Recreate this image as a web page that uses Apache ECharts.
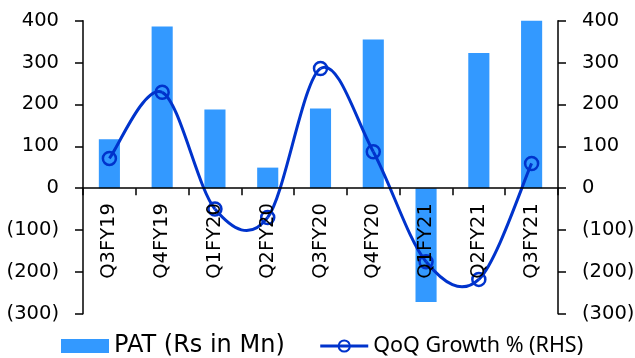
<!DOCTYPE html>
<html>
<head>
<meta charset="utf-8">
<script src="https://cdn.jsdelivr.net/npm/echarts@6/dist/echarts.min.js"></script>
<style>
  html, body { margin: 0; padding: 0; background: #fff; }
  #chart { width: 635px; height: 358px; }
</style>
</head>
<body>
<div id="chart"></div>
<script>
// Quarterly profit and quarter-on-quarter growth
const quarters = ['Q3FY19', 'Q4FY19', 'Q1FY20', 'Q2FY20', 'Q3FY20', 'Q4FY20', 'Q1FY21', 'Q2FY21', 'Q3FY21'];
const pat = [117, 386, 188, 49, 190, 355, -272, 323, 400];
const growth = [71, 229, -50, -70, 286, 87, -176, -218, 59];
const axisTicks = [-300, -200, -100, 0, 100, 200, 300, 400];

const BAR = '#3399FF';
const LINE = '#0033CC';
const AXIS = '#000000';

const W = 635, H = 358;
const GRID = { left: 83, right: 77, top: 20.7, bottom: 44.3 };
const yMin = axisTicks[0], yMax = axisTicks[axisTicks.length - 1];
// lift the category axis from the grid bottom up to the zero line
const plotH = H - GRID.top - GRID.bottom;
const zeroLift = plotH * (0 - yMin) / (yMax - yMin);

const fmt = v => (v < 0 ? '(' + (-v) + ')' : String(v));

function valueAxis(position) {
  return {
    type: 'value',
    position: position,
    min: yMin,
    max: yMax,
    interval: 100,
    splitLine: { show: false },
    axisLine: { show: true, onZero: false, lineStyle: { color: AXIS, width: 1.5 } },
    axisTick: { show: true, length: 8, lineStyle: { color: AXIS, width: 1.5 } },
    axisLabel: {
      margin: 24,
      color: '#000',
      fontFamily: 'DejaVu Sans',
      fontSize: 19.5,
      formatter: fmt
    }
  };
}

// Catmull-Rom style smoothing between consecutive growth points
function renderCurve(params, api) {
  const i = params.dataIndex;
  const n = growth.length;
  if (i >= n - 1) return null;
  const pt = k => {
    k = Math.max(0, Math.min(n - 1, k));
    return api.coord([k, growth[k]]);
  };
  const p0 = pt(i - 1), p1 = pt(i), p2 = pt(i + 1), p3 = pt(i + 2);
  return {
    type: 'bezierCurve',
    shape: {
      x1: p1[0], y1: p1[1],
      x2: p2[0], y2: p2[1],
      cpx1: p1[0] + (p2[0] - p0[0]) / 6,
      cpy1: p1[1] + (p2[1] - p0[1]) / 6,
      cpx2: p2[0] - (p3[0] - p1[0]) / 6,
      cpy2: p2[1] - (p3[1] - p1[1]) / 6
    },
    style: { stroke: LINE, lineWidth: 3, fill: null }
  };
}

const chart = echarts.init(document.getElementById('chart'), null, { renderer: 'canvas' });
chart.setOption({
  animation: false,
  backgroundColor: '#fff',
  grid: Object.assign({ outerBoundsMode: 'none' }, GRID),
  legend: {
    left: 61,
    top: 334,
    padding: 0,
    itemGap: 34,
    itemWidth: 48,
    itemHeight: 14,
    lineStyle: { opacity: 1, width: 3, color: LINE },
    data: [
      { name: 'PAT (Rs in Mn)', icon: 'rect',
        textStyle: { fontFamily: 'DejaVu Sans', fontSize: 24, color: '#000' } },
      { name: 'QoQ Growth % (RHS)',
        textStyle: { fontFamily: 'Noto Sans', fontSize: 21.5, color: '#000' } }
    ]
  },
  xAxis: {
    type: 'category',
    data: quarters,
    z: 5,
    boundaryGap: true,
    offset: -zeroLift,
    axisLine: { onZero: false, lineStyle: { color: AXIS, width: 1.5 } },
    axisTick: { show: true, alignWithLabel: false, length: 7, lineStyle: { color: AXIS, width: 1.5 } },
    axisLabel: {
      rotate: 90,
      margin: 15,
      interval: 0,
      color: '#000',
      fontFamily: 'DejaVu Sans',
      fontSize: 19.5
    }
  },
  yAxis: [valueAxis('left'), valueAxis('right')],
  series: [
    {
      name: 'PAT (Rs in Mn)',
      type: 'bar',
      data: pat,
      barWidth: '40%',
      itemStyle: { color: BAR },
      z: 1
    },
    {
      name: 'growth curve',
      type: 'custom',
      yAxisIndex: 1,
      data: growth.map((v, i) => [i, v]),
      encode: { x: 0, y: 1 },
      renderItem: renderCurve,
      z: 2
    },
    {
      name: 'QoQ Growth % (RHS)',
      type: 'line',
      yAxisIndex: 1,
      data: growth,
      symbol: 'circle',
      symbolSize: 13,
      showAllSymbol: true,
      lineStyle: { color: LINE, width: 3, opacity: 0 },
      itemStyle: { color: 'rgba(255,255,255,0)', borderColor: LINE, borderWidth: 2.5 },
      z: 3
    }
  ]
});
</script>
</body>
</html>
